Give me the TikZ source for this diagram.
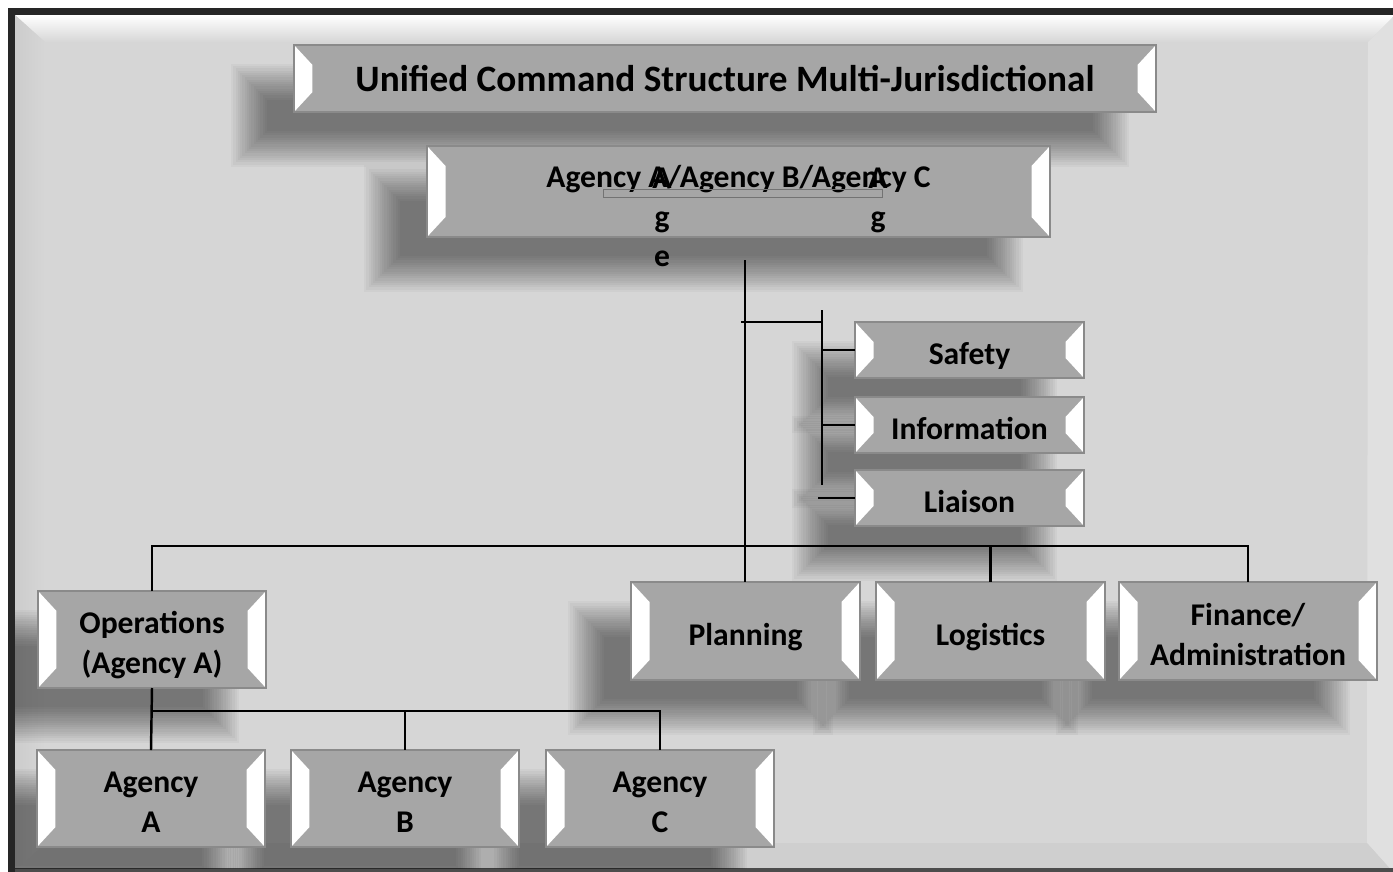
\documentclass[tikz,border=0pt]{standalone}
\usepackage{fontspec}
\setmainfont{Carlito}
\definecolor{boxgray}{HTML}{A6A6A6}
\definecolor{boxedge}{HTML}{8A8A8A}
\definecolor{pagegray}{HTML}{D6D6D6}
\pgfdeclarelayer{back}
\pgfdeclarelayer{shade}
\pgfsetlayers{back,shade,main}
\newcommand{\topstrut}{\rule{0pt}{0.727cm}}
\tikzset{
  size/.style 2 args={minimum width=#1*0.02cm, minimum height=#2*0.02cm},
  box/.style={draw=boxedge, line width=0.6pt, fill=boxgray, inner sep=0pt, outer sep=0pt,
    align=center, font=\fontsize{18}{22.7}\selectfont\bfseries,
    execute at begin node={\topstrut},
    execute at end node={\rule[-0.159cm]{0pt}{0.159cm}},
    path picture={
      \fill[white] (path picture bounding box.north west) -- ++(0.37cm,-0.4cm)
        -- ([shift={(0.37cm,0.4cm)}]path picture bounding box.south west)
        -- (path picture bounding box.south west) -- cycle;
      \fill[white] (path picture bounding box.north east) -- ++(-0.37cm,-0.4cm)
        -- ([shift={(-0.37cm,0.4cm)}]path picture bounding box.south east)
        -- (path picture bounding box.south east) -- cycle;
    }},
  stray/.style={inner sep=0pt, align=center, font=\fontsize{18}{22.1}\selectfont\bfseries},
  link/.style={line width=1.4pt}
}
% ombra sfumata sotto un riquadro
\newcommand{\boxshade}[1]{%
  \foreach \d in {0,0.045,...,0.72}
    \fill[black, opacity=0.03] ([shift={(-0.54cm-\d cm,-1.1cm+\d cm)}]#1.north west)
      rectangle ([shift={(-1.26cm+\d cm,-0.38cm-\d cm)}]#1.south east);
}

\begin{document}
\begin{tikzpicture}[x=0.02cm, y=-0.02cm]
    % Disegna i riquadri
    \node[box, size={862}{67}, execute at end node={\rule[-0.2cm]{0pt}{0.2cm}}] (title) at (725,78.5) {\fontsize{21.2}{25}\selectfont Unified Command Structure Multi-Jurisdictional};
    \node[box, size={623}{91}, execute at end node={\rule[-0.9cm]{0pt}{0.9cm}}] (command) at (738.5,191.5) {Agency A/Agency B/Agency C};
    \node[box, size={229}{56}] (safety) at (969.5,350) {Safety};
    \node[box, size={229}{56}] (info) at (969.5,425) {Information};
    \node[box, size={229}{56}] (liaison) at (969.5,498) {Liaison};
    \node[box, size={229}{98}] (plan) at (745.5,631) {Planning};
    \node[box, size={229}{98}] (logi) at (990.5,631) {Logistics};
    \node[box, size={258}{98}] (fin) at (1248,631) {\topstrut Finance/\\Administration};
    \node[box, size={228}{97}] (ops) at (152,639.5) {\topstrut Operations\\(Agency A)};
    \node[box, size={228}{97}] (agA) at (151,798.5) {\topstrut Agency\\A};
    \node[box, size={228}{97}] (agB) at (405,798.5) {\topstrut Agency\\B};
    \node[box, size={228}{97}] (agC) at (660,798.5) {\topstrut Agency\\C};

    % Disegna lo sfondo con la cornice
    \begin{pgfonlayer}{back}
    \fill[white] (0,0) rectangle (1393,872);
    \fill[black!85] (8,8) rectangle (1393,872);
    \fill[pagegray] (15,15) rectangle (1393,872);
    \shade[top color=white, bottom color=pagegray] (15,15) -- (1393,15) -- (1393,17) -- (1368,42) -- (45,42) -- cycle;
    \shade[left color=black!20, right color=pagegray] (15,15) -- (45,42) -- (45,843) -- (15,872) -- cycle;
    \fill[black!12] (1368,42) -- (1393,17) -- (1393,872) -- (1367,843) -- cycle;
    \fill[black!19] (45,843) -- (1367,843) -- (1393,872) -- (15,872) -- cycle;
    \fill[black!70] (15,868) rectangle (1393,872);
    \end{pgfonlayer}

    % Disegna le ombre
    \begin{pgfonlayer}{shade}
    \clip (15,15) rectangle (1393,868);
    \foreach \b in {title,command,safety,info,liaison,plan,logi,fin,ops,agA,agB,agC}
      {\boxshade{\b}}
    \end{pgfonlayer}

    % Disegna le lettere sovrapposte
    \draw[black!55, line width=0.5pt] (603,189) rectangle (882,197);
    \node[stray, anchor=north] (strayA) at (662,168) {A\\g\\e};
    \node[stray, anchor=north] (strayC) at (878,168) {A\\g};

    % Disegna le linee di collegamento
    \coordinate (top) at (745,260);
    \coordinate (stafffork) at (822,322);
    \coordinate (stafftop) at (822,310);
    \coordinate (staffbot) at (822,485);
    \coordinate (bar) at (745,546);
    \coordinate (subbar) at (150,711);
    \draw[link] (top) -- (top |- plan.north);
    \draw[link] ([xshift=-2]top |- stafffork) -- (stafffork);
    \draw[link] (stafftop) -- (staffbot);
    \draw[link] (stafftop |- safety.west) -- (safety.west);
    \draw[link] (stafftop |- info.west) -- (info.west);
    \draw[link] ([xshift=-0.74cm]liaison.west) -- (liaison.west);
    \draw[link] (ops.north) -- (ops.north |- bar) -- (fin.north |- bar) -- (fin.north);
    \draw[link] (logi.north |- bar) -- (logi.north);
    \draw[link] (ops.south) -- (agA.north);
    \draw[link] (ops.south |- subbar) -- (agC.north |- subbar) -- (agC.north);
    \draw[link] (agB.north |- subbar) -- (agB.north);

    \useasboundingbox (0,0) rectangle (1393,872);
\end{tikzpicture}
\end{document}
